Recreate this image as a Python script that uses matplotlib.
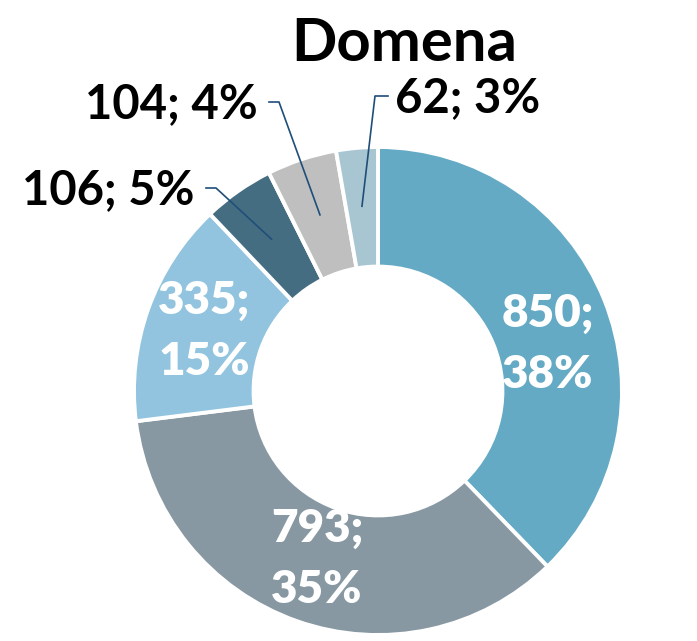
import matplotlib.pyplot as plt
import numpy as np

values = [850, 793, 335, 106, 104, 62]
percents = ["38%", "35%", "15%", "5%", "4%", "3%"]
colors = ["#64AAC5", "#8798A2", "#92C4DF", "#456D82", "#BFBFBF", "#A8C6D2"]
title = "Domena"

plt.rcParams['font.family'] = ['Lato', 'DejaVu Sans']

fig = plt.figure(figsize=(6.97, 6.41), dpi=100)
ax = fig.add_axes([0, 0, 1, 1])

cx, cy, R = 378, 250, 244
wedges, _ = ax.pie(values, colors=colors, startangle=90, counterclock=False,
                   center=(cx, cy), radius=R, frame=True,
                   wedgeprops=dict(width=R * 0.49, edgecolor='white', linewidth=2.8))
ax.set_xlim(0, 697)
ax.set_ylim(0, 641)
ax.set_aspect('equal')
ax.axis('off')

# mid angles of slices
mids = [np.deg2rad((w.theta1 + w.theta2) / 2) for w in wedges]

# inner labels (big slices), placed like excel does
inner_pos = [(548, 297), (317, 82), (204, 310)]
for i in range(3):
    x, y = inner_pos[i]
    ax.text(x, y, "%d;\n%s" % (values[i], percents[i]), color='white',
            fontsize=33, fontweight='heavy', ha='center', va='center', linespacing=1.6)

# outer labels with leader lines
label_pos = [(195, 451, 'right'), (258, 537, 'right'), (395, 543, 'left')]
for k, i in enumerate(range(3, 6)):
    tx, ty, ha = label_pos[k]
    px = cx + 0.76 * R * np.cos(mids[i])
    py = cy + 0.76 * R * np.sin(mids[i])
    if ha == 'right':
        start, elbow = tx + 11, tx + 21
    else:
        start, elbow = tx - 7, tx - 20
    ax.plot([start, elbow, px], [ty + 2, ty + 2, py], color='#1F4E79', lw=1.2)
    ax.text(tx, ty, "%d; %s" % (values[i], percents[i]), color='black',
            fontsize=34, fontweight='bold', ha=ha, va='center')

ax.text(404, 597, title, fontsize=43, fontweight='bold', ha='center', va='center')

fig.savefig('out.png', dpi=100)
